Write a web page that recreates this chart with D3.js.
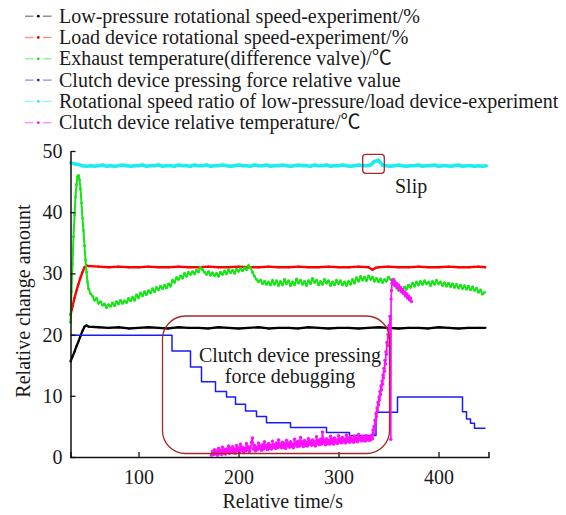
<!DOCTYPE html>
<html>
<head>
<meta charset="utf-8">
<script src="https://cdn.jsdelivr.net/npm/d3@7"></script>
<style>
  html, body { margin: 0; padding: 0; background: #fff; }
  svg text { font-family: "Liberation Serif", "Times New Roman", Times, "Noto Sans CJK SC", serif; fill: #1a1a1a; }
</style>
</head>
<body>
<svg id="chart" width="566" height="515"></svg>
<script>
// ---- data ----------------------------------------------------------------
const xTicks = [100, 200, 300, 400];
const yTicks = [0, 10, 20, 30, 40, 50];

const legendLabels = [
  "Low-pressure rotational speed-experiment/%",
  "Load device rotational speed-experiment/%",
  "Exhaust temperature(difference valve)/\u2103",
  "Clutch device pressing force relative value",
  "Rotational speed ratio of low-pressure/load device-experiment",
  "Clutch device relative temperature/\u2103"
];

// low-pressure rotational speed [time s, value]
const blackPoints = [
  [32,15.6],[34,16.4],[36,17.2],[38,18.1],[40,18.9],[42,19.8],[44,20.6],[46,21.3],[48,21.5],[50,21.3],
  [60,21.2],[70,21.1],[80,21.2],[90,21.0],[100,21.1],[110,21.2],[120,21.1],[130,21.0],[140,21.2],[150,21.1],
  [160,21.1],[170,21.0],[180,21.2],[190,21.1],[200,21.0],[210,21.1],[220,21.2],[230,21.0],[240,21.1],[250,21.1],
  [260,21.0],[270,21.2],[280,21.1],[290,21.0],[300,21.1],[310,21.1],[320,21.0],[330,21.1],[340,21.2],[350,21.1],
  [360,21.0],[370,21.1],[380,21.1],[390,21.0],[400,21.2],[410,21.1],[420,21.0],[430,21.1],[440,21.1],[447,21.1]
];

// load device rotational speed
const redPoints = [
  [32,23.2],[34,24.6],[36,26.0],[38,27.2],[40,28.3],[42,29.3],[44,30.2],[46,31.0],[48,31.3],[50,31.2],
  [60,31.1],[70,31.0],[80,31.1],[90,31.0],[100,31.0],[110,31.1],[120,31.0],[130,31.0],[140,31.1],[150,31.0],
  [160,31.0],[170,31.1],[180,31.0],[190,31.0],[200,31.1],[210,31.0],[220,31.0],[230,31.1],[240,31.0],[250,31.0],
  [260,31.1],[270,31.0],[280,31.0],[290,31.1],[300,31.0],[310,31.0],[320,31.1],[330,31.0],[334,30.6],[337,30.9],
  [340,31.0],[350,31.1],[360,31.0],[370,31.0],[380,31.1],[390,31.0],[400,31.0],[410,31.1],[420,31.0],[430,31.0],
  [440,31.1],[447,31.0]
];

// exhaust temperature: start-up spike, then sampled every 2 s from 54 s
const greenSpike = [
  [32,22.0],[33,27.0],[34,31.5],[35,36.0],[36,39.5],[37,42.5],[38,44.5],[39,45.8],[40,46.0],[41,45.3],
  [42,43.8],[43,41.5],[44,39.0],[45,37.0],[46,34.5],[47,32.2],[48,30.2],[49,28.6],[50,27.5],[52,26.7]
];
const greenStart = 54, greenStep = 2;
const greenValues = [
  26.3,25.6,25.9,25.1,25.4,24.8,25.0,24.4,24.9,24.6,
  25.2,24.7,25.4,25.0,25.6,25.1,25.5,25.2,25.9,25.5,
  26.1,25.6,26.5,26.0,26.8,26.3,27.0,26.5,27.2,26.8,
  27.5,27.0,27.7,27.3,27.9,27.5,28.1,27.6,28.3,27.9,
  28.9,28.5,29.3,29.0,29.6,29.2,30.0,29.5,30.2,29.8,
  30.3,29.9,30.5,30.2,31.0,30.6,30.2,29.8,30.3,29.7,
  30.1,29.6,30.0,29.5,30.2,29.8,30.4,29.9,30.6,30.1,
  30.5,30.0,30.7,30.3,30.8,30.4,30.9,30.6,31.3,30.9,
  30.2,29.5,29.0,28.6,28.9,28.3,28.7,28.2,28.6,28.1,
  28.9,28.2,28.8,28.0,28.7,28.1,29.0,28.3,28.8,28.0,
  28.6,28.1,29.1,28.4,28.9,28.2,28.7,28.0,28.8,28.3,
  29.2,28.5,28.9,28.1,28.7,28.2,29.0,28.4,28.8,28.0,
  28.6,28.1,28.9,28.3,28.8,28.1,28.6,28.0,28.7,28.2,
  29.0,28.4,29.3,28.7,29.5,28.9,29.4,28.8,29.6,29.0,
  29.4,28.7,29.2,28.6,29.1,28.5,29.0,28.7,29.4,29.0,
  28.6,28.0,27.6,27.2,27.6,27.1,27.8,27.4,28.1,27.7,
  28.4,27.9,28.6,28.1,28.7,28.2,28.8,28.3,28.6,28.0,
  28.7,28.2,28.9,28.3,28.6,28.0,28.5,27.9,28.4,27.8,
  28.3,27.7,28.2,27.6,28.1,27.5,28.0,27.4,27.9,27.3,
  27.8,27.2,27.6,26.9,27.3,26.6,26.9
];

// clutch pressing force, held level from each time until the next one
const blueSteps = [
  [32,19.9],[133.5,17.3],[152,14.7],[163,12.3],[177,10.7],[188,9.8],[197,8.6],[207,7.5],[218,6.6],
  [228,5.6],[252,4.8],[288,4.0],[311,3.5],[337.5,7.3],[359,9.8],[424,7.4],[428,6.2],[432,5.5],
  [436,4.7],[447,4.7]
];

// speed ratio, sampled every 4 s from 32 s
const cyanStart = 32, cyanStep = 4;
const cyanValues = [
  48.1,47.9,47.8,47.6,47.5,47.6,47.5,47.6,47.7,47.5,
  47.6,47.5,47.6,47.7,47.6,47.5,47.6,47.6,47.7,47.5,
  47.6,47.6,47.7,47.5,47.6,47.6,47.5,47.7,47.6,47.6,
  47.5,47.7,47.6,47.6,47.7,47.5,47.6,47.6,47.7,47.6,
  47.5,47.6,47.7,47.6,47.6,47.5,47.7,47.6,47.6,47.7,
  47.5,47.6,47.6,47.7,47.6,47.5,47.6,47.7,47.6,47.6,
  47.5,47.7,47.6,47.6,47.7,47.5,47.6,47.6,47.7,47.6,
  47.5,47.6,47.7,47.6,47.6,47.7,48.3,48.5,47.7,47.6,
  47.5,47.6,47.7,47.6,47.5,47.6,47.6,47.7,47.5,47.6,
  47.6,47.7,47.5,47.6,47.6,47.5,47.6,47.7,47.5,47.6,
  47.6,47.5,47.6,47.5,47.6
];

// clutch temperature: sampled every 1 s from 173 s, then the fast rise
const magentaStart = 173, magentaStep = 1;
const magentaValues = [
  0.3,0.9,0.4,1.2,0.5,1.0,0.3,1.4,0.6,1.1,
  0.4,1.6,0.7,1.2,0.5,1.3,0.8,1.8,0.6,1.4,
  0.9,1.7,0.7,1.3,0.6,1.9,1.0,1.5,0.8,2.1,
  1.1,1.6,0.8,1.4,1.0,2.2,1.2,1.7,0.9,1.5,
  2.4,3.1,1.3,1.9,1.0,1.6,1.2,2.3,1.4,1.8,
  1.1,2.0,1.3,2.5,1.5,1.9,1.2,2.2,1.4,1.9,
  1.3,2.6,1.6,2.0,1.4,2.3,1.5,2.8,1.7,2.1,
  1.5,2.4,1.6,2.2,1.4,2.7,1.8,2.3,1.6,2.5,
  1.7,2.1,1.5,2.9,1.9,2.4,1.7,2.6,1.8,3.2,
  2.0,2.5,1.7,2.7,1.9,2.4,1.8,3.0,2.1,2.6,
  1.9,2.8,2.0,2.5,1.8,3.3,2.2,2.7,2.0,2.9,
  2.1,4.1,2.4,2.8,2.0,3.0,2.2,2.7,2.1,3.4,
  2.3,2.9,2.1,3.1,2.4,2.8,2.2,3.5,2.5,3.0,
  2.3,3.2,2.5,2.9,2.3,3.6,2.6,3.1,2.4,3.3,
  2.6,3.0,2.4,3.4,2.7,3.1,2.5,3.7,2.8,3.2,
  2.6,3.4,2.7,3.1,2.6,3.5,2.8,3.2,2.7,3.4,
  2.9
];
const magentaRise = [
  [333.5,3.6],[334,3.0],[334.5,4.4],[335,3.8],[335.5,5.0],[336,4.6],[336.5,6.0],[337,5.6],[337.5,7.1],[338,6.6],
  [338.5,8.0],[339,7.6],[339.5,8.9],[340,8.5],[340.5,9.8],[341,9.3],[341.5,10.7],[342,10.2],[342.5,11.6],[343,11.0],
  [343.5,12.4],[344,11.9],[344.5,13.4],[345,12.9],[345.5,14.5],[346,14.0],[346.5,15.8],[347,15.2],[347.5,17.2],[348,16.8],
  [348.5,18.7],[349,18.2],[349.5,20.0],[350,19.6],[350.5,21.5],[351,21.0],[351.5,23.0],[352,22.6],[352.3,2.9],[352.6,25.8],
  [353,27.2],[353.5,28.4],[354,28.9],[354.5,28.3],[355,29.0],[355.5,28.2],[356,28.7],[357,28.0],[358,28.4],[359,27.7],
  [360,28.1],[361,27.3],[362,27.7],[363,27.0],[364,27.4],[365,26.7],[366,27.0],[367,26.3],[368,26.7],[369,26.0],
  [370,26.3],[371,25.7],[372,26.0],[373,25.4]
];

// ---- helpers -------------------------------------------------------------
const sampled = (start, step, values) => values.map((v, i) => [start + i * step, v]);
const serif = '"Liberation Serif", "Times New Roman", Times, "Noto Sans CJK SC", serif';

const x = d3.scaleLinear().domain([32, 450]).range([70.5, 488.5]);
const y = d3.scaleLinear().domain([0, 50]).range([457, 151]);

const svg = d3.select("#chart");
const line = d3.line().x(d => x(d[0])).y(d => y(d[1]));
const stepLine = d3.line().x(d => x(d[0])).y(d => y(d[1])).curve(d3.curveStepAfter);

const series = [
  { color: "#000000", pts: blackPoints, gen: line, w: 2.3, r: 1.1, legendAlpha: 0.5 },
  { color: "#ff0000", pts: redPoints, gen: line, w: 2.4, r: 1.1, legendAlpha: 0.45 },
  { color: "#14e614", pts: greenSpike.concat(sampled(greenStart, greenStep, greenValues)), gen: line, w: 2.0, r: 1.4, legendAlpha: 0.5 },
  { color: "#1a1aff", pts: blueSteps, gen: stepLine, w: 1.5, r: 0, legendAlpha: 0.5 },
  { color: "#1ceef0", pts: sampled(cyanStart, cyanStep, cyanValues), gen: line, w: 3.6, r: 1.5, legendAlpha: 0.5 },
  { color: "#ff10ff", pts: sampled(magentaStart, magentaStep, magentaValues).concat(magentaRise), gen: line, w: 1.7, r: 1.7, legendAlpha: 0.5 }
];

// ---- data lines ----------------------------------------------------------
const plot = svg.append("g");
series.forEach(s => {
  plot.append("path")
    .attr("d", s.gen(s.pts))
    .attr("fill", "none")
    .attr("stroke", s.color)
    .attr("stroke-width", s.w)
    .attr("stroke-linejoin", "round");
  if (s.r > 0) {
    plot.append("g").selectAll("circle").data(s.pts).join("circle")
      .attr("cx", d => x(d[0])).attr("cy", d => y(d[1]))
      .attr("r", s.r).attr("fill", s.color);
  }
});

// ---- axes ----------------------------------------------------------------
const xAxis = svg.append("g").attr("transform", "translate(0,457)")
  .call(d3.axisBottom(x).tickValues(xTicks).tickSize(-5).tickSizeOuter(-5).tickFormat(d3.format("d")));
xAxis.selectAll("text").attr("y", 26.5).attr("dy", null);

const yAxis = svg.append("g").attr("transform", "translate(70.5,0)")
  .call(d3.axisLeft(y).tickValues(yTicks).tickSize(-5).tickSizeOuter(0).tickPadding(8));

[xAxis, yAxis].forEach(a => {
  a.attr("font-family", serif).attr("font-size", 20);
  a.select(".domain").attr("stroke", "#111").attr("stroke-width", 1.5);
  a.selectAll(".tick line").attr("stroke", "#111").attr("stroke-width", 1.3);
  a.selectAll("text").attr("fill", "#1a1a1a");
});

svg.append("text").attr("x", 282.7).attr("y", 508).attr("text-anchor", "middle")
  .attr("font-size", 20).text("Relative time/s");
svg.append("text").attr("transform", "translate(30,301) rotate(-90)").attr("text-anchor", "middle")
  .attr("font-size", 20).text("Relative change amount");

// ---- annotations ---------------------------------------------------------
const noteColor = "#a82828";
svg.append("rect").attr("x", 162.5).attr("y", 316).attr("width", 227).attr("height", 137.5)
  .attr("rx", 23).attr("fill", "none").attr("stroke", noteColor).attr("stroke-width", 1.3);
svg.append("text").attr("x", 290).attr("y", 361.7).attr("text-anchor", "middle")
  .attr("font-size", 20).text("Clutch device pressing");
svg.append("text").attr("x", 290).attr("y", 382.7).attr("text-anchor", "middle")
  .attr("font-size", 20).text("force debugging");

svg.append("rect").attr("x", 362.7).attr("y", 154.3).attr("width", 21.6).attr("height", 19)
  .attr("rx", 3).attr("fill", "none").attr("stroke", noteColor).attr("stroke-width", 1.3);
svg.append("text").attr("x", 395).attr("y", 193.3).attr("font-size", 20).text("Slip");

// ---- legend --------------------------------------------------------------
const legend = svg.append("g");
legendLabels.forEach((label, i) => {
  const base = 22.7 + i * 21.3;
  const cy = base - 6.5;
  const s = series[i];
  const g = legend.append("g");
  [[25, 33.5], [43, 51.5]].forEach(([a, b]) => {
    g.append("line").attr("x1", a).attr("x2", b).attr("y1", cy).attr("y2", cy)
      .attr("stroke", s.color).attr("stroke-opacity", s.legendAlpha).attr("stroke-width", 1.3);
  });
  g.append("circle").attr("cx", 38.3).attr("cy", cy).attr("r", 1.4).attr("fill", s.color);
  g.append("text").attr("x", 59).attr("y", base).attr("font-size", 20).text(label);
});
</script>
</body>
</html>
